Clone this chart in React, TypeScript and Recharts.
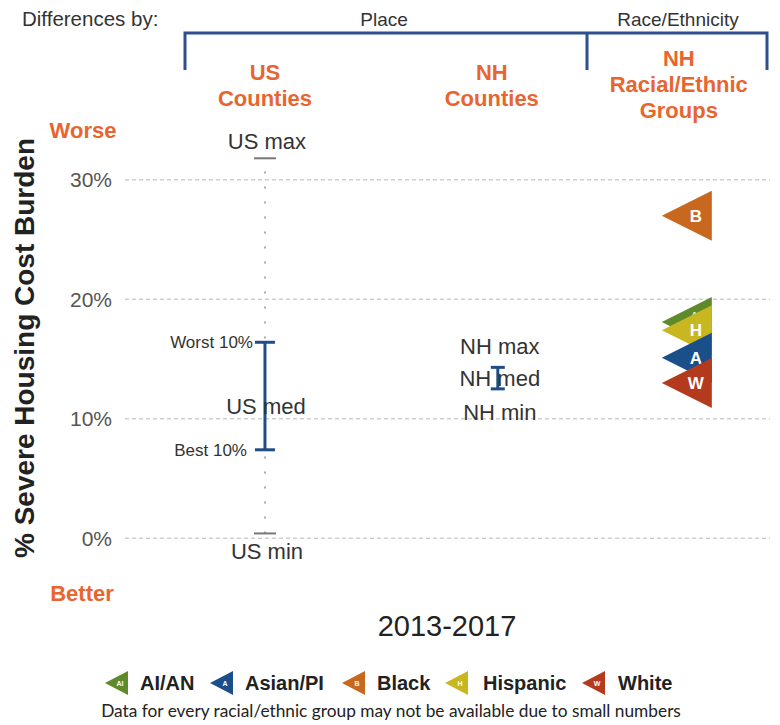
import React from "react";
import {
  ComposedChart,
  Scatter,
  ErrorBar,
  XAxis,
  YAxis,
  CartesianGrid,
  ReferenceLine,
} from "recharts";

const FONT = "'Liberation Sans', Arial, sans-serif";
const ORANGE = "#E8652F";
const BRACKET = "#2F4F8F";
const BAR_BLUE = "#1F4E85";

// columns on the x axis (0-100 scale)
const columnNames = [["US", "Counties"], ["NH", "Counties"], ["NH", "Racial/Ethnic", "Groups"]];
const columnX = [21.7, 57.8, 87.1];
const yTicks = [0, 10, 20, 30];

// US counties: min, best 10%, median, worst 10%, max
const usStatNames = ["US min", "Best 10%", "US med", "Worst 10%", "US max"];
const usStatValues = [0.4, 7.4, 11.0, 16.4, 31.8];

// NH counties: min, median, max
const nhStatNames = ["NH min", "NH med", "NH max"];
const nhStatValues = [12.5, 13.4, 14.3];

// NH racial/ethnic groups
const groupNames = ["AI/AN", "Asian/PI", "Black", "Hispanic", "White"];
const groupLetters = ["AI", "A", "B", "H", "W"];
const groupValues = [18.1, 15.1, 27.0, 17.4, 13.0];
const groupColors = ["#5E8A2A", "#1B4F8A", "#C8681E", "#C9B722", "#B43A1E"];

// label offsets (px) relative to the point they describe
const labelStyle: Record<string, { dx: number; dy: number; anchor: string; size: number }> = {
  "US max": { dx: 2, dy: -17, anchor: "middle", size: 22 },
  "US min": { dx: 2, dy: 18, anchor: "middle", size: 22 },
  "US med": { dx: 1, dy: 0, anchor: "middle", size: 22 },
  "Worst 10%": { dx: -12, dy: 0, anchor: "end", size: 17 },
  "Best 10%": { dx: -18, dy: 0, anchor: "end", size: 17 },
  "NH max": { dx: 2, dy: -21, anchor: "middle", size: 22 },
  "NH med": { dx: 2, dy: 0, anchor: "middle", size: 22 },
  "NH min": { dx: 2, dy: 23, anchor: "middle", size: 22 },
};

const labelPoints = [
  ...usStatNames.map((name, i) => ({ x: columnX[0], y: usStatValues[i], name })),
  ...nhStatNames.map((name, i) => ({ x: columnX[1], y: nhStatValues[i], name })),
];
const capPoints = [
  { x: columnX[0], y: usStatValues[0] },
  { x: columnX[0], y: usStatValues[4] },
];
const usRange = [
  {
    x: columnX[0],
    y: usStatValues[2],
    err: [usStatValues[2] - usStatValues[1], usStatValues[3] - usStatValues[2]],
  },
];
const nhRange = [
  {
    x: columnX[1],
    y: nhStatValues[1],
    err: [nhStatValues[1] - nhStatValues[0], nhStatValues[2] - nhStatValues[1]],
  },
];
const groupPoints = groupNames
  .map((name, i) => ({
    x: columnX[2],
    y: groupValues[i],
    name,
    letter: groupLetters[i],
    color: groupColors[i],
  }))
  .sort((a, b) => b.y - a.y);

const ColumnTick = (props: any) => {
  const { x, payload } = props;
  const i = columnX.indexOf(payload.value);
  const lines = columnNames[i] || [];
  const dx = [0, -6, -8][i] || 0;
  const firstBaseline = lines.length === 3 ? 66 : 80;
  return (
    <g>
      {lines.map((line, k) => (
        <text
          key={k}
          x={x + dx}
          y={firstBaseline + k * 26}
          textAnchor="middle"
          fill={ORANGE}
          fontFamily={FONT}
          fontWeight="bold"
          fontSize={22}
        >
          {line}
        </text>
      ))}
    </g>
  );
};

const StatLabel = (props: any) => {
  const { cx, cy, payload } = props;
  const s = labelStyle[payload.name];
  return (
    <text
      x={cx + s.dx}
      y={cy + s.dy + s.size * 0.35}
      textAnchor={s.anchor}
      fill="#333"
      fontFamily={FONT}
      fontSize={s.size}
    >
      {payload.name}
    </text>
  );
};

const Cap = (props: any) => (
  <line x1={props.cx - 11} x2={props.cx + 11} y1={props.cy} y2={props.cy} stroke="#777" strokeWidth={2} />
);

const Empty = () => <g />;

const GroupTriangle = (props: any) => {
  const { cx, cy, payload } = props;
  const small = payload.letter.length > 1;
  return (
    <g>
      <polygon points={`${cx + 25},${cy - 25} ${cx + 25},${cy + 25} ${cx - 25},${cy}`} fill={payload.color} />
      <text
        x={cx + 9}
        y={small ? cy - 4 : cy + 6}
        textAnchor="middle"
        fill="#fff"
        fontFamily={FONT}
        fontWeight="bold"
        fontSize={small ? 9 : 17}
      >
        {payload.letter}
      </text>
    </g>
  );
};

const legendIconX = [105, 210, 342, 445, 582];
const legendTextX = [140, 245, 377, 483, 618];

function Annotations() {
  return (
    <svg
      width={780}
      height={725}
      style={{ position: "absolute", left: 0, top: 0, pointerEvents: "none" }}
      fontFamily={FONT}
    >
      <text x={22} y={26} fontSize={20.5} fill="#333">Differences by:</text>
      <text x={384} y={26} fontSize={19} fill="#333" textAnchor="middle">Place</text>
      <text x={678} y={26} fontSize={19} fill="#333" textAnchor="middle">Race/Ethnicity</text>
      <path d="M185 70 V33 H767 V70 M587 33 V70" fill="none" stroke={BRACKET} strokeWidth={3} />

      <text x={83} y={138} fontSize={22} fontWeight="bold" fill={ORANGE} textAnchor="middle">Worse</text>
      <text x={82} y={601} fontSize={22} fontWeight="bold" fill={ORANGE} textAnchor="middle">Better</text>
      <text
        transform="translate(34,348) rotate(-90)"
        fontSize={28}
        fontWeight="bold"
        fill="#222"
        textAnchor="middle"
      >
        % Severe Housing Cost Burden
      </text>

      <text x={447} y={636} fontSize={29} fill="#222" textAnchor="middle">2013-2017</text>

      {groupNames.map((name, i) => (
        <g key={name}>
          <polygon
            points={`${legendIconX[i] + 23},${671} ${legendIconX[i] + 23},${695} ${legendIconX[i]},${683}`}
            fill={groupColors[i]}
          />
          <text x={legendIconX[i] + 15} y={686} fontSize={7} fill="#fff" textAnchor="middle" fontWeight="bold">
            {groupLetters[i]}
          </text>
          <text x={legendTextX[i]} y={690} fontSize={20} fontWeight="bold" fill="#222">
            {name}
          </text>
        </g>
      ))}

      <text x={391} y={717} fontSize={17.3} fill="#222" textAnchor="middle" fontFamily="Lato, 'Open Sans', sans-serif">
        Data for every racial/ethnic group may not be available due to small numbers
      </text>
    </svg>
  );
}

export default function App() {
  return (
    <div style={{ position: "absolute", left: 0, top: 0, width: 780, height: 725, background: "#fff" }}>
      <ComposedChart width={780} height={725} margin={{ top: 102, right: 10, bottom: 139, left: 0 }}>
        <CartesianGrid
          vertical={false}
          horizontalValues={yTicks}
          stroke="#cfcfcf"
          strokeDasharray="4 3"
          strokeWidth={1.5}
        />
        <XAxis
          xAxisId={0}
          dataKey="x"
          type="number"
          orientation="top"
          domain={[0, 100]}
          ticks={columnX}
          interval={0}
          height={30}
          axisLine={false}
          tickLine={false}
          tick={<ColumnTick />}
        />
        <YAxis
          dataKey="y"
          type="number"
          domain={[-4, 34]}
          ticks={yTicks}
          interval={0}
          width={125}
          axisLine={false}
          tickLine={false}
          tickSize={6}
          tickMargin={7}
          tickFormatter={(v: number) => `${v}%`}
          tick={{ fill: "#555", fontSize: 21, fontFamily: FONT }}
        />
        <ReferenceLine
          segment={[
            { x: columnX[0], y: usStatValues[0] },
            { x: columnX[0], y: usStatValues[4] },
          ]}
          stroke="#aaa"
          strokeWidth={2}
          strokeDasharray="2 13"
        />
        <Scatter data={labelPoints} shape={<StatLabel />} isAnimationActive={false} />
        <Scatter data={capPoints} shape={<Cap />} isAnimationActive={false} />
        <Scatter data={usRange} shape={<Empty />} isAnimationActive={false}>
          <ErrorBar dataKey="err" direction="y" width={10} stroke={BAR_BLUE} strokeWidth={3} isAnimationActive={false} />
        </Scatter>
        <Scatter data={nhRange} shape={<Empty />} isAnimationActive={false}>
          <ErrorBar dataKey="err" direction="y" width={7} stroke={BAR_BLUE} strokeWidth={3} isAnimationActive={false} />
        </Scatter>
        <Scatter data={groupPoints} shape={<GroupTriangle />} isAnimationActive={false} />
      </ComposedChart>
      <Annotations />
    </div>
  );
}
